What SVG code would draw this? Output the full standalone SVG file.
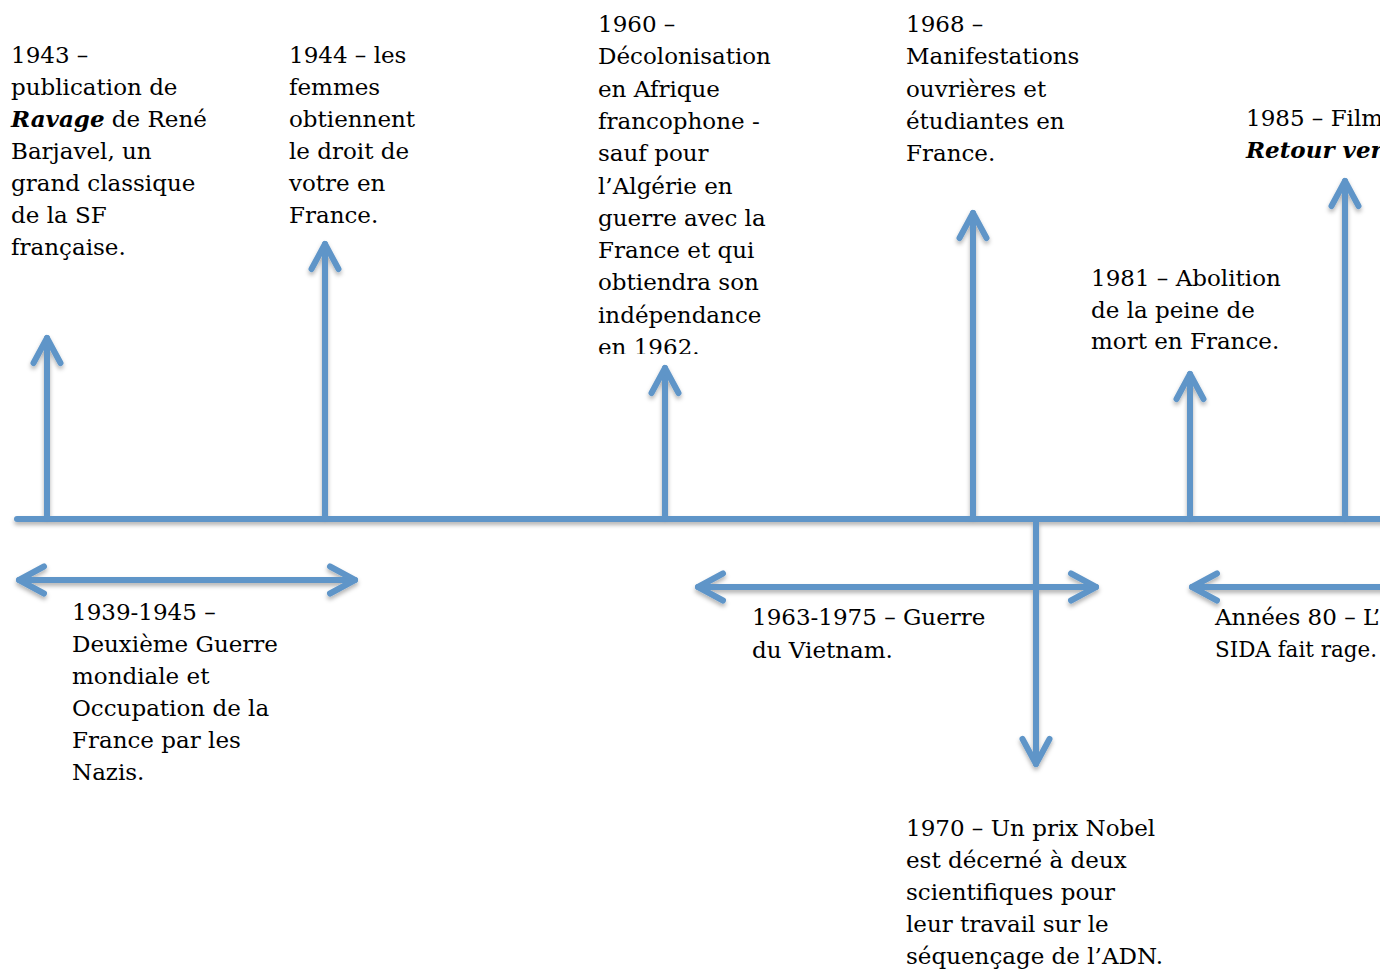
<svg xmlns="http://www.w3.org/2000/svg" width="1380" height="971" viewBox="0 0 1380 971">
<style>
.t{font-family:"DejaVu Serif","Liberation Serif",serif;font-size:23px;fill:#000}
.bi{font-weight:bold;font-style:italic}
.ln{fill:none;stroke:#5F95C8;stroke-width:6;stroke-linecap:round;stroke-linejoin:round}
.ar{marker-end:url(#chev)}
.dar{marker-start:url(#chev);marker-end:url(#chev)}
</style>
<defs>
<filter id="sh" x="-5%" y="-5%" width="110%" height="110%">
<feDropShadow dx="0" dy="3" stdDeviation="2" flood-color="#000" flood-opacity="0.3"/>
</filter>
<marker id="chev" markerUnits="userSpaceOnUse" viewBox="-32 -18 38 36" refX="0" refY="0" markerWidth="38" markerHeight="36" orient="auto-start-reverse" overflow="visible">
<path d="M-25,-13.5 L0,0 L-25,13.5" fill="none" stroke="#5F95C8" stroke-width="6" stroke-linecap="round" stroke-linejoin="round"/>
</marker>
<clipPath id="c1960"><rect x="590" y="0" width="200" height="354"/></clipPath>
</defs>
<rect width="1380" height="971" fill="#fff"/>
<g id="connectors" filter="url(#sh)">
<path class="ln" d="M17,519 H1385"/>
<path class="ln ar" d="M47,519 V338"/>
<path class="ln ar" d="M325,519 V244"/>
<path class="ln ar" d="M665,519 V368"/>
<path class="ln ar" d="M973,519 V213"/>
<path class="ln ar" d="M1190,519 V374"/>
<path class="ln ar" d="M1345,519 V181"/>
<path class="ln ar" d="M1036,521 V764"/>
<path class="ln dar" d="M19,580 H355"/>
<path class="ln dar" d="M698,587 H1096"/>
<path class="ln" d="M1192,587 H1390" marker-start="url(#chev)"/>
</g>
<g id="n1943"><text class="t"><tspan x="11" y="63">1943 –</tspan><tspan x="11" y="95">publication de</tspan><tspan x="11" y="127"><tspan class="bi">Ravage</tspan> de René</tspan><tspan x="11" y="159">Barjavel, un</tspan><tspan x="11" y="191">grand classique</tspan><tspan x="11" y="223">de la SF</tspan><tspan x="11" y="255">française.</tspan></text></g>
<g id="n1944"><text class="t"><tspan x="289" y="63">1944 – les</tspan><tspan x="289" y="95">femmes</tspan><tspan x="289" y="127">obtiennent</tspan><tspan x="289" y="159">le droit de</tspan><tspan x="289" y="191">votre en</tspan><tspan x="289" y="223">France.</tspan></text></g>
<g id="n1960" clip-path="url(#c1960)"><text class="t"><tspan x="598" y="32">1960 –</tspan><tspan x="598" y="64.3">Décolonisation</tspan><tspan x="598" y="96.6">en Afrique</tspan><tspan x="598" y="128.9">francophone  -</tspan><tspan x="598" y="161.2">sauf pour</tspan><tspan x="598" y="193.5">l’Algérie en</tspan><tspan x="598" y="225.8">guerre avec la</tspan><tspan x="598" y="258.1">France et qui</tspan><tspan x="598" y="290.4">obtiendra son</tspan><tspan x="598" y="322.7">indépendance</tspan><tspan x="598" y="355">en 1962.</tspan></text></g>
<g id="n1968"><text class="t"><tspan x="906" y="32">1968 –</tspan><tspan x="906" y="64.3">Manifestations</tspan><tspan x="906" y="96.6">ouvrières et</tspan><tspan x="906" y="128.9">étudiantes en</tspan><tspan x="906" y="161.2">France.</tspan></text></g>
<g id="n1981"><text class="t"><tspan x="1091" y="286">1981 – Abolition</tspan><tspan x="1091" y="318">de la peine de</tspan><tspan x="1091" y="349">mort en France.</tspan></text></g>
<g id="n1985"><text class="t"><tspan x="1246" y="126">1985 – Film</tspan><tspan x="1246" y="158" class="bi">Retour vers</tspan></text></g>
<g id="n1939"><text class="t"><tspan x="72" y="620">1939-1945 –</tspan><tspan x="72" y="652">Deuxième Guerre</tspan><tspan x="72" y="684">mondiale et</tspan><tspan x="72" y="716">Occupation de la</tspan><tspan x="72" y="748">France par les</tspan><tspan x="72" y="780">Nazis.</tspan></text></g>
<g id="n1963"><text class="t"><tspan x="752" y="625">1963-1975 – Guerre</tspan><tspan x="752" y="658">du Vietnam.</tspan></text></g>
<g id="n80"><text class="t"><tspan x="1215" y="625">Années 80 – L’</tspan><tspan x="1215" y="657" textLength="162" lengthAdjust="spacingAndGlyphs">SIDA fait rage.</tspan></text></g>
<g id="n1970"><text class="t"><tspan x="906" y="836">1970 – Un prix Nobel</tspan><tspan x="906" y="868">est décerné à deux</tspan><tspan x="906" y="900">scientifiques pour</tspan><tspan x="906" y="932">leur travail sur le</tspan><tspan x="906" y="964">séquençage de l’ADN.</tspan></text></g>
</svg>
